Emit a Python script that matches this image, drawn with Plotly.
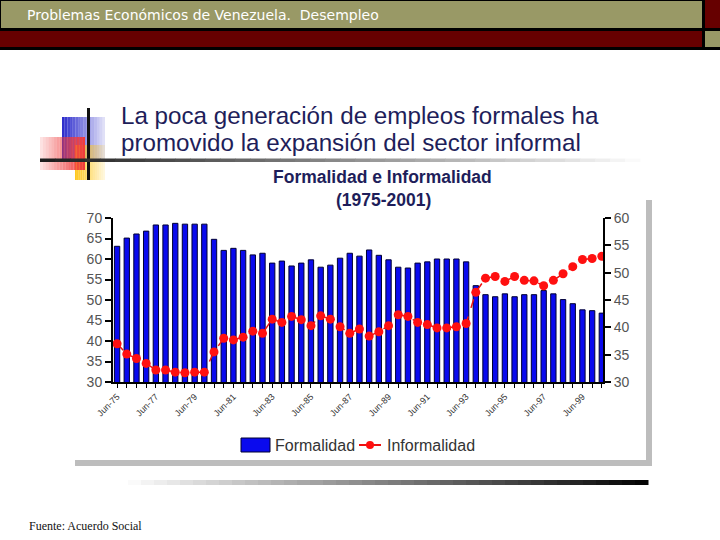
import plotly.graph_objects as go

# semi-annual periods Jun-75 .. Jun-00
periodos = []
for a in range(75, 101):
    yy = str(a % 100).zfill(2)
    periodos.append("Jun-" + yy)
    if a < 100:
        periodos.append("Dic-" + yy)

formalidad = [63.1, 65.1, 66.1, 66.8, 68.3, 68.3, 68.7, 68.5, 68.5, 68.5,
              64.8, 62.1, 62.6, 62.1, 61.0, 61.4, 59.0, 59.5, 58.3, 59.0,
              59.8, 58.0, 58.5, 60.2, 61.4, 60.7, 62.2, 60.9, 59.8, 58.0,
              57.8, 59.0, 59.3, 60.0, 60.0, 60.0, 59.3, 53.5, 51.3, 50.8,
              51.5, 50.8, 51.3, 51.3, 52.3, 51.5, 50.1, 49.1, 47.6, 47.4,
              46.8]
informalidad = [37.0, 35.1, 34.3, 33.4, 32.2, 32.2, 31.8, 31.7, 31.8, 31.8,
                35.5, 38.0, 37.7, 38.2, 39.3, 38.9, 41.5, 40.9, 42.0, 41.4,
                40.3, 42.1, 41.5, 40.1, 38.9, 39.7, 38.4, 39.2, 40.3, 42.3,
                42.0, 40.9, 40.5, 39.9, 39.9, 40.1, 40.7, 46.4, 49.0, 49.3,
                48.4, 49.3, 48.6, 48.5, 47.6, 48.6, 49.8, 51.1, 52.4, 52.6,
                53.0]
etiquetas = ["Jun-75", "Jun-77", "Jun-79", "Jun-81", "Jun-83", "Jun-85", "Jun-87",
             "Jun-89", "Jun-91", "Jun-93", "Jun-95", "Jun-97", "Jun-99"]

periodos = periodos[:len(formalidad)]
idx = list(range(len(periodos)))
tick_idx = [periodos.index(e) for e in etiquetas]

AZUL = "#0A0AEE"
ROJO = "#FF1010"
W, H = 720, 540
def px(x):
    return x / W
def py(y):
    return 1 - y / H

fig = go.Figure()
fig.add_trace(go.Bar(x=idx, y=formalidad, name="Formalidad",
                     marker=dict(color=AZUL, line=dict(color="#000033", width=1)),
                     width=0.55))
fig.add_trace(go.Scatter(x=idx, y=informalidad, name="Informalidad", yaxis="y2",
                         mode="lines+markers",
                         line=dict(color="#EE1111", width=1.5, dash="dash"),
                         marker=dict(color=ROJO, size=9)))

shapes = []
def rect(x0, y0, x1, y1, color, layer="above", opacity=1):
    shapes.append(dict(type="rect", xref="paper", yref="paper",
                       x0=px(x0), x1=px(x1), y0=py(y1), y1=py(y0),
                       fillcolor=color, line=dict(width=0), layer=layer, opacity=opacity))

# header bands
rect(0, 0, 720, 50, "#000000")
rect(1, 1, 702, 28, "#999966")
rect(705, 0, 720, 28, "#660000")
rect(0, 31, 702, 47, "#660000")
rect(705, 31, 720, 47, "#999966")

# chart shadow
rect(646, 200, 652, 466, "#BDBDBD", layer="below")
rect(75, 460, 652, 466, "#BDBDBD", layer="below")

# decorative squares (fading to the sides)
def fade(x0, y0, x1, y1, rgb, left_to_right=True, steps=16):
    for i in range(steps):
        a = x0 + i * (x1 - x0) / steps
        b = x0 + (i + 1) * (x1 - x0) / steps
        t = i / (steps - 1)
        op = 1 - 0.85 * t if left_to_right else 0.15 + 0.85 * t
        rect(a, y0, b, y1, rgb, opacity=op)

fade(62, 117, 105, 160, "#2E2ECC", True)
fade(75, 145, 105, 180, "#FFC81E", True)
fade(40, 137, 85, 170, "#F03C3C", False)
rect(87, 108, 90, 180, "#111111")

# title underline gradient (dark -> light)
n = 40
for i in range(n):
    x0 = 40 + i * (640 - 40) / n
    x1 = 40 + (i + 1) * (640 - 40) / n
    g = int(30 + 220 * i / (n - 1))
    rect(x0, 158.5, x1 + 0.5, 162, "rgb(%d,%d,%d)" % (g, g, g))

# bottom gradient (light -> dark)
for i in range(n):
    x0 = 128 + i * (648 - 128) / n
    x1 = 128 + (i + 1) * (648 - 128) / n
    g = int(250 - 245 * i / (n - 1))
    rect(x0, 480, x1 + 0.5, 485, "rgb(%d,%d,%d)" % (g, g, g))

# legend (drawn by hand to get the large swatch)
rect(241, 438, 270, 452, AZUL)
shapes.append(dict(type="rect", xref="paper", yref="paper",
                   x0=px(241), x1=px(270), y0=py(452), y1=py(438),
                   line=dict(color="#000033", width=1)))
shapes.append(dict(type="line", xref="paper", yref="paper",
                   x0=px(359), x1=px(381), y0=py(445), y1=py(445),
                   line=dict(color="#EE1111", width=2)))
shapes.append(dict(type="circle", xref="paper", yref="paper",
                   x0=px(366), x1=px(374), y0=py(449), y1=py(441),
                   fillcolor=ROJO, line=dict(width=0)))

ann = [
    dict(text="Problemas Económicos de Venezuela.  Desempleo", x=px(25), y=py(15),
         xanchor="left", font=dict(family="DejaVu Sans", size=14, color="white")),
    dict(text="La poca generación de empleos formales ha", x=px(119), y=py(115),
         xanchor="left", font=dict(family="Liberation Sans", size=24.2, color="#1E1E5A")),
    dict(text="promovido la expansión del sector informal", x=px(119), y=py(142.5),
         xanchor="left", font=dict(family="Liberation Sans", size=24.2, color="#1E1E5A")),
    dict(text="<b>Formalidad e Informalidad</b>", x=px(382), y=py(177),
         xanchor="center", font=dict(family="Liberation Sans", size=17.5, color="#1E1E5A")),
    dict(text="<b>(1975-2001)</b>", x=px(383), y=py(200),
         xanchor="center", font=dict(family="Liberation Sans", size=17.5, color="#1E1E5A")),
    dict(text="Formalidad", x=px(273), y=py(445), xanchor="left",
         font=dict(family="Liberation Sans", size=16, color="#333333")),
    dict(text="Informalidad", x=px(385), y=py(445), xanchor="left",
         font=dict(family="Liberation Sans", size=16, color="#333333")),
    dict(text="Fuente: Acuerdo Social", x=px(27), y=py(526),
         xanchor="left", font=dict(family="Liberation Serif", size=12, color="#111111")),
]
for a in ann:
    a.update(xref="paper", yref="paper", showarrow=False, yanchor="middle")

fig.update_layout(
    width=W, height=H, margin=dict(l=0, r=0, t=0, b=0, autoexpand=False),
    paper_bgcolor="white", plot_bgcolor="white",
    shapes=shapes, annotations=ann,
    bargap=0.45, showlegend=False,
    xaxis=dict(domain=[px(113), px(603)], range=[-0.42, 50.12], automargin=False,
               tickvals=tick_idx, ticktext=etiquetas, tickangle=-45,
               tickfont=dict(family="Liberation Sans", size=9, color="#333333"),
               ticks="outside", ticklen=4, tickcolor="black",
               minor=dict(dtick=1, tick0=0, ticks="outside", ticklen=4, tickcolor="black"),
               showline=True, linecolor="black", linewidth=2, showgrid=False, zeroline=False,
               anchor="y"),
    yaxis=dict(domain=[py(382), py(218)], range=[30, 70], dtick=5, automargin=False,
               tickfont=dict(family="Liberation Sans", size=14, color="#555555"),
               ticks="outside", ticklen=6, tickcolor="black", tickwidth=2,
               showline=True, linecolor="black", linewidth=2, showgrid=False, zeroline=False),
    yaxis2=dict(overlaying="y", side="right", range=[30, 60], dtick=5, automargin=False,
                tickfont=dict(family="Liberation Sans", size=14, color="#555555"),
                ticks="outside", ticklen=6, tickcolor="black", tickwidth=2,
                showline=True, linecolor="black", linewidth=2, showgrid=False, zeroline=False,
                anchor="x"),
)

fig.write_html("out.html", config={"displayModeBar": False},
               post_script="document.body.style.margin='0';")
